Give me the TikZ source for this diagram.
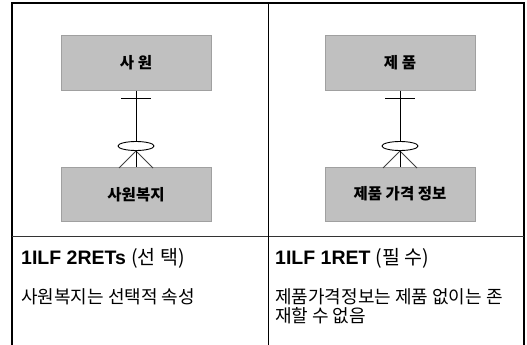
\documentclass[tikz,border=0pt]{standalone}
\usepackage{fontspec}
\setmainfont{Liberation Sans}
\newfontfamily\kr{Noto Sans CJK KR}
\definecolor{boxfill}{RGB}{192,192,192}
\definecolor{boxline}{RGB}{160,160,160}
\tikzset{
  entity/.style={draw=boxline, line width=1pt, fill=boxfill, minimum width=150pt, minimum height=54pt, inner sep=0pt, font=\kr\fontsize{15.5pt}{18pt}\selectfont\bfseries},
  rel/.style={draw=black, line width=0.9pt},
  titletext/.style={anchor=base west, inner sep=0pt, font=\fontsize{19.5pt}{22pt}\selectfont},
  bodytext/.style={anchor=base west, inner sep=0pt, font=\kr\fontsize{18pt}{19pt}\selectfont}
}
\begin{document}
\begin{tikzpicture}[x=1pt,y=-1pt]
\useasboundingbox (0,0) rectangle (527,345);
% frame
\draw[line width=2pt] (12,345) -- (12,3) -- (524,3) -- (524,345);
\draw[line width=1pt, black!80] (12,236) -- (524,236);
\draw[line width=1pt] (268,3) -- (268,345);
% left diagram
\node[entity] (emp) at (136,63) {사 원};
\node[entity] (wel) at (136,194.5) {사원복지};
\coordinate (ell1) at (136,146);
\draw[rel] (emp.south) -- (wel.north);
\draw[rel] (121,98) -- (151,98);
\draw[rel, fill=white] (ell1) ellipse [x radius=18pt, y radius=4.5pt];
\draw[rel, black!75] (136,151) -- (119,168);
\draw[rel, black!75] (136,151) -- (153,168);
\draw[rel] (136,150.5) -- (wel.north);
% right diagram
\node[entity] (prod) at (400,63) {제 품};
\node[entity] (price) at (400,194) {제품 가격 정보};
\coordinate (ell2) at (400,146);
\draw[rel] (prod.south) -- (price.north);
\draw[rel] (385,98) -- (415,98);
\draw[rel, fill=white] (ell2) ellipse [x radius=18pt, y radius=4.5pt];
\draw[rel, black!75] (400,151) -- (383,168);
\draw[rel, black!75] (400,151) -- (417,168);
\draw[rel] (400,150.5) -- (price.north);
% bottom texts
\node[titletext] (t1) at (21,264) {\textbf{1ILF 2RETs} {\kr (선 택)}};
\node[bodytext] (b1) at (21,303.5) {사원복지는 선택적 속성};
\node[titletext] (t2) at (275,264) {\textbf{1ILF 1RET} {\kr (필 수)}};
\node[bodytext] (b2) at (275,303.5) {제품가격정보는 제품 없이는 존};
\node[bodytext] (b2b) at (275,322) {재할 수 없음};
\end{tikzpicture}
\end{document}
